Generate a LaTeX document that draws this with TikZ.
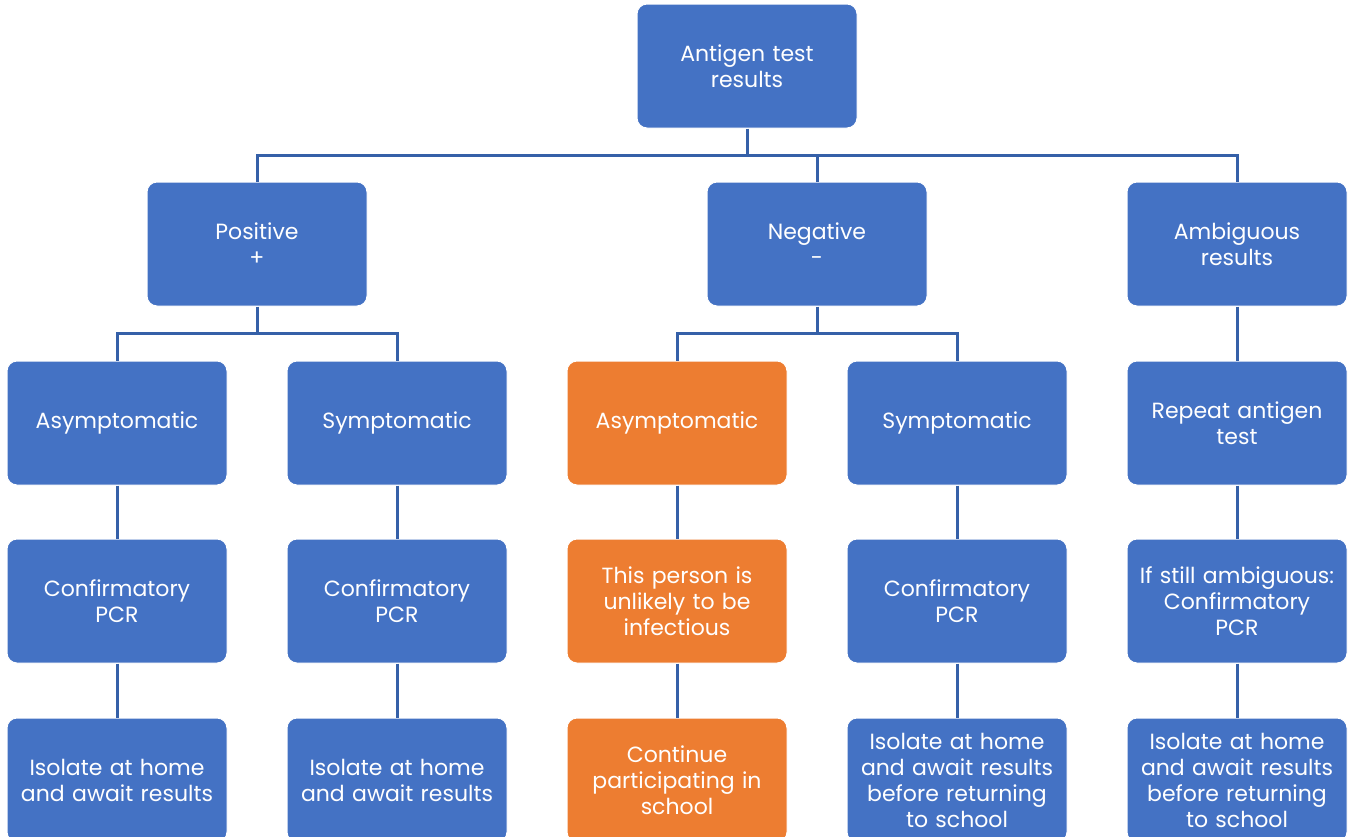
\documentclass[tikz,border=0pt]{standalone}
\usepackage{fontspec}
\setmainfont{Poppins}
\usetikzlibrary{positioning,calc}
\definecolor{boxblue}{HTML}{4472C4}
\definecolor{boxorange}{HTML}{ED7D31}
\definecolor{linkblue}{HTML}{3560A8}

\begin{document}
\begin{tikzpicture}[
  x=0.5pt, y=-0.5pt,
  box/.style={draw=white, line width=0.5pt, fill=boxblue, rounded corners=5pt,
    text=white, align=center, text width=106pt, inner xsep=2pt,
    minimum height=62pt, font=\fontsize{11}{13}\selectfont},
  hot/.style={box, fill=boxorange},
  link/.style={draw=linkblue, line width=1.5pt},
]
\useasboundingbox (0,0) rectangle (1348,836);

% top
\node[box] (antigen) at (747,66) {Antigen test\\results};

% first level
\node[box] (positive) at (257,244) {Positive\\+};
\node[box] (negative) at (817,244) {Negative\\-};
\node[box] (ambiguous) at (1237,244) {Ambiguous\\results};

% second level
\node[box] (posasym) at (117,423) {Asymptomatic};
\node[box] (possym) at (397,423) {Symptomatic};
\node[hot] (negasym) at (677,423) {Asymptomatic};
\node[box] (negsym) at (957,423) {Symptomatic};
\node[box] (repeat) at (1237,423) {Repeat antigen\\test};

% third level
\node[box] (posasympcr) at (117,601) {Confirmatory\\PCR};
\node[box] (possympcr) at (397,601) {Confirmatory\\PCR};
\node[hot] (unlikely) at (677,601) {This person is\\unlikely to be\\infectious};
\node[box] (negsympcr) at (957,601) {Confirmatory\\PCR};
\node[box] (stillamb) at (1237,601) {If still ambiguous:\\Confirmatory\\PCR};

% fourth level
\node[box] (posasymiso) at (117,780) {Isolate at home\\and await results};
\node[box] (possymiso) at (397,780) {Isolate at home\\and await results};
\node[hot] (continue) at (677,780) {Continue\\participating in\\school};
\node[box] (negsymiso) at (957,780) {Isolate at home\\and await results\\before returning\\to school};
\node[box] (ambiso) at (1237,780) {Isolate at home\\and await results\\before returning\\to school};

% buses
\coordinate (topbus) at (747,155);
\coordinate (posbus) at (257,333);
\coordinate (negbus) at (817,333);

\draw[link] (antigen) -- (topbus);
\draw[link] (positive) |- (topbus) -| (ambiguous);
\draw[link] (negative) -- (negative |- topbus);

\draw[link] (positive) -- (posbus);
\draw[link] (posasym) |- (posbus) -| (possym);
\draw[link] (negative) -- (negbus);
\draw[link] (negasym) |- (negbus) -| (negsym);
\draw[link] (ambiguous) -- (repeat);

\draw[link] (posasym) -- (posasympcr);
\draw[link] (possym) -- (possympcr);
\draw[link] (negasym) -- (unlikely);
\draw[link] (negsym) -- (negsympcr);
\draw[link] (repeat) -- (stillamb);

\draw[link] (posasympcr) -- (posasymiso);
\draw[link] (possympcr) -- (possymiso);
\draw[link] (unlikely) -- (continue);
\draw[link] (negsympcr) -- (negsymiso);
\draw[link] (stillamb) -- (ambiso);
\end{tikzpicture}
\end{document}
